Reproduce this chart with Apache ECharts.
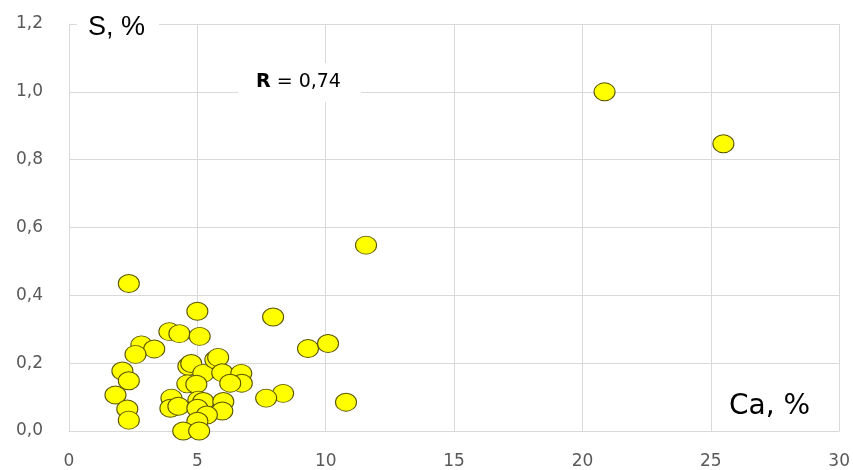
<!DOCTYPE html>
<html>
<head>
<meta charset="utf-8">
<script src="https://cdn.jsdelivr.net/npm/echarts@6/dist/echarts.min.js"></script>
<style>
  html, body { margin: 0; padding: 0; background: #fff; }
  #chart { width: 853px; height: 470px; }
</style>
</head>
<body>
<div id="chart"></div>
<script>
// Ca (%) and S (%) content of samples
const caValues = [
  20.86, 25.49, 11.57, 2.33, 5.00, 7.95, 9.31, 10.09, 10.79, 8.34,
  7.68, 3.91, 4.30, 5.09, 2.82, 3.32, 2.59, 2.08, 2.33, 1.81,
  2.27, 2.33, 4.65, 4.76, 5.23, 5.70, 5.81, 5.97, 6.71, 6.73,
  6.28, 4.61, 4.96, 3.99, 3.95, 4.26, 5.04, 5.23, 6.01, 5.97,
  5.00, 5.37, 5.00, 4.45, 5.07
];
const sValues = [
  1.000, 0.847, 0.548, 0.435, 0.353, 0.336, 0.243, 0.258, 0.085, 0.111,
  0.097, 0.293, 0.287, 0.279, 0.254, 0.242, 0.226, 0.177, 0.148, 0.106,
  0.065, 0.032, 0.191, 0.199, 0.170, 0.210, 0.217, 0.172, 0.170, 0.141,
  0.141, 0.139, 0.138, 0.097, 0.067, 0.073, 0.091, 0.087, 0.087, 0.059,
  0.067, 0.047, 0.029, 0.000, 0.000
];
const xTicks = { min: 0, max: 30, step: 5 };
const yTicks = { min: 0, max: 1.2, step: 0.2 };
const correlationText = '0,74';

const points = caValues.map((x, i) => [x, sValues[i]]);
const tickFont = 'DejaVu Sans';
const gridColor = '#d9d9d9';

const chart = echarts.init(document.getElementById('chart'), null, { renderer: 'canvas' });
chart.setOption({
  animation: false,
  backgroundColor: '#ffffff',
  grid: { left: 69, right: 13, top: 24, bottom: 37 },
  xAxis: {
    type: 'value',
    min: xTicks.min, max: xTicks.max, interval: xTicks.step,
    axisLine: { show: true, lineStyle: { color: gridColor, width: 1 } },
    axisTick: { show: false },
    splitLine: { show: true, lineStyle: { color: gridColor, width: 1 } },
    axisLabel: { color: '#595959', fontSize: 17, fontFamily: tickFont, margin: 22 }
  },
  yAxis: {
    type: 'value',
    min: yTicks.min, max: yTicks.max, interval: yTicks.step,
    axisLine: { show: true, lineStyle: { color: gridColor, width: 1 } },
    axisTick: { show: false },
    splitLine: { show: true, lineStyle: { color: gridColor, width: 1 } },
    axisLabel: {
      color: '#595959', fontSize: 17, fontFamily: tickFont, margin: 26,
      padding: [6, 0, 0, 0],
      formatter: v => v.toFixed(1).replace('.', ',')
    }
  },
  title: [
    {
      text: 'S, %',
      left: 77, top: 8,
      padding: [6, 14, 8, 11],
      backgroundColor: '#ffffff',
      textStyle: { fontFamily: 'Liberation Sans', fontSize: 27, fontWeight: 'normal', color: '#000' }
    },
    {
      text: '{b|R} = ' + correlationText,
      left: 238, top: 63,
      padding: [10, 20, 10, 18],
      backgroundColor: '#ffffff',
      textStyle: {
        fontFamily: 'DejaVu Sans', fontSize: 19, fontWeight: 'normal', color: '#000',
        rich: { b: { fontFamily: 'DejaVu Sans', fontSize: 19, fontWeight: 'bold', color: '#000' } }
      }
    },
    {
      text: 'Ca, %',
      left: 729, top: 393,
      padding: 0,
      textStyle: { fontFamily: 'DejaVu Sans', fontSize: 28, fontWeight: 'normal', color: '#000' }
    }
  ],
  series: [{
    type: 'scatter',
    data: points,
    symbol: 'circle',
    symbolSize: [21, 18],
    itemStyle: { color: '#ffff00', borderColor: '#5a5600', borderWidth: 1, opacity: 1 }
  }]
});
</script>
</body>
</html>
